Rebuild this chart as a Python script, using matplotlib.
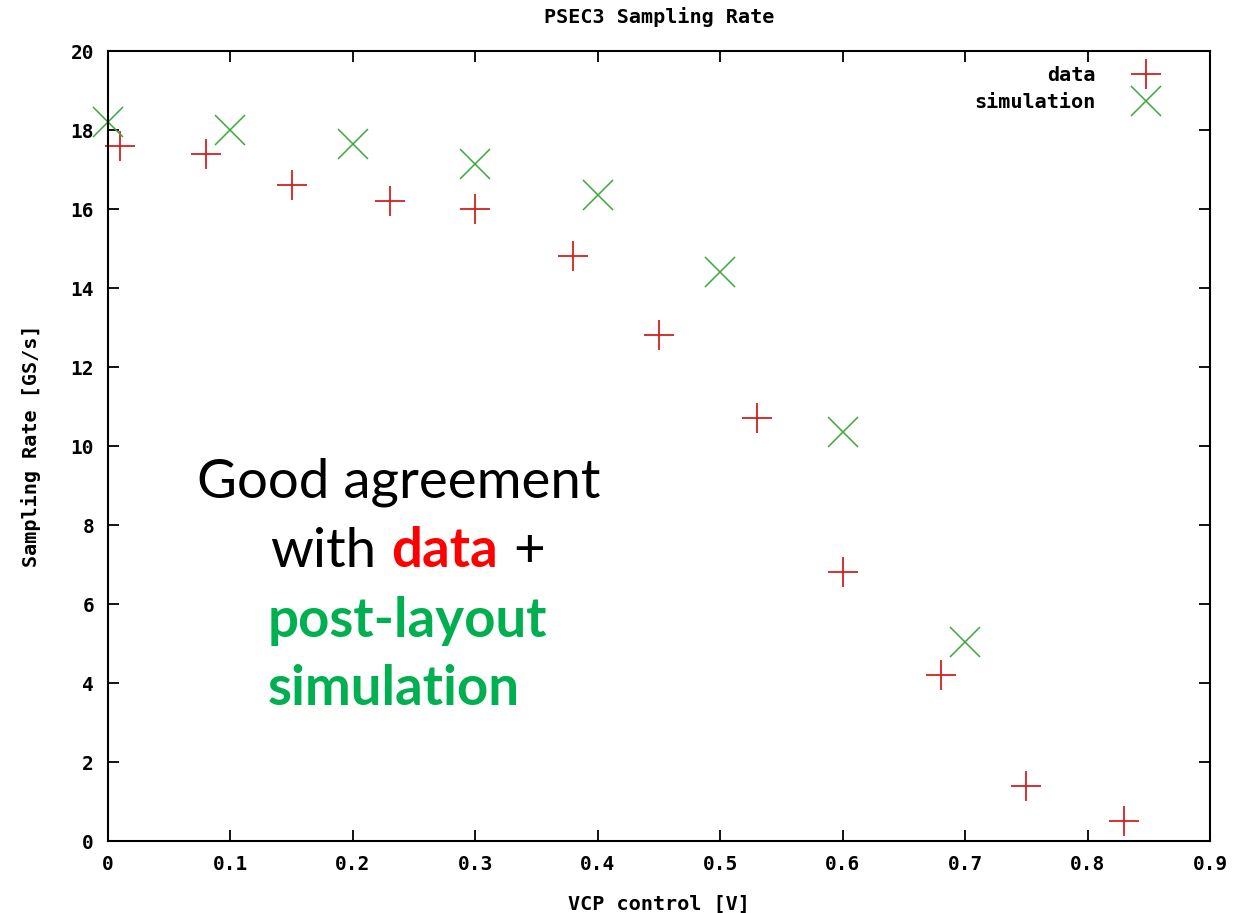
import matplotlib
matplotlib.use("Agg")
import matplotlib.pyplot as plt

# ---- data ----
data_x = [0.01, 0.08, 0.15, 0.23, 0.30, 0.38, 0.45, 0.53, 0.60, 0.68, 0.75, 0.83]
data_y = [17.6, 17.4, 16.6, 16.2, 16.0, 14.8, 12.8, 10.7, 6.8, 4.2, 1.4, 0.5]
sim_x = [0.0, 0.1, 0.2, 0.3, 0.4, 0.5, 0.6, 0.7]
sim_y = [18.2, 18.0, 17.65, 17.15, 16.35, 14.4, 10.35, 5.05]
x_ticks = [0, 0.1, 0.2, 0.3, 0.4, 0.5, 0.6, 0.7, 0.8, 0.9]
x_ticklabels = ["0", "0.1", "0.2", "0.3", "0.4", "0.5", "0.6", "0.7", "0.8", "0.9"]
y_ticks = [0, 2, 4, 6, 8, 10, 12, 14, 16, 18, 20]

W, H = 1247, 913
fig = plt.figure(figsize=(W / 100, H / 100), dpi=100)
ax_l, ax_r, ax_t, ax_b = 108, 1210, 51, 841
ax = fig.add_axes([ax_l / W, 1 - ax_b / H, (ax_r - ax_l) / W, (ax_b - ax_t) / H])

mono = dict(family="DejaVu Sans Mono", weight="bold")

ax.plot(data_x, data_y, linestyle="none", marker="+", markersize=21,
        markeredgewidth=1.3, color="#d42020", label="data", clip_on=False)
ax.plot(sim_x, sim_y, linestyle="none", marker="x", markersize=21,
        markeredgewidth=1.1, color="#3aaa3a", label="simulation", clip_on=False)

ax.set_xlim(0, 0.9)
ax.set_ylim(0, 20)
ax.set_xticks(x_ticks)
ax.set_xticklabels(x_ticklabels)
ax.set_yticks(y_ticks)
for lab in ax.get_xticklabels() + ax.get_yticklabels():
    lab.set_fontfamily("DejaVu Sans Mono")
    lab.set_fontweight("bold")
    lab.set_fontsize(14)
ax.tick_params(direction="in", length=8, width=1.3, top=True, right=True,
               pad=10, colors="black")
for s in ax.spines.values():
    s.set_linewidth(1.5)
    s.set_color("black")

ax.set_title("PSEC3 Sampling Rate", fontsize=14.5, pad=20, **mono)
ax.set_xlabel("VCP control [V]", fontsize=14.5, labelpad=15, **mono)
ax.set_ylabel("Sampling Rate [GS/s]", fontsize=14.5, labelpad=21, **mono)

aw, ah = ax_r - ax_l, ax_b - ax_t
leg = ax.legend(loc="upper right", markerfirst=False, frameon=False,
                bbox_to_anchor=(1 - 48 / aw, 1 - 15 / ah),
                prop=dict(family="DejaVu Sans Mono", weight="bold", size=14.5),
                handlelength=1.6, handletextpad=1.7, labelspacing=0.38,
                borderaxespad=0.0, borderpad=0.0)

# ---- annotation text ----
fs = 39.3
fam = "Lato"
def fy(y):
    return 1 - y / H

fig.text(197 / W, fy(497), "Good agreement", fontsize=fs, family=fam,
         color="black", va="baseline", ha="left")
fig.canvas.draw()
r = fig.canvas.get_renderer()

t1 = fig.text(270 / W, fy(567), "with", fontsize=fs, family=fam,
              color="black", va="baseline", ha="left")
bb = t1.get_window_extent(r)
gap = 15
t2 = fig.text((bb.x1 + gap) / W, fy(567), "data", fontsize=fs, family=fam,
              weight="bold", color="#ff0000", va="baseline", ha="left")
bb2 = t2.get_window_extent(r)
fig.text((bb2.x1 + gap) / W, fy(567), "+", fontsize=fs, family=fam,
         color="black", va="baseline", ha="left")
fig.text(268 / W, fy(637), "post-layout", fontsize=fs, family=fam,
         weight="bold", color="#00b050", va="baseline", ha="left")
fig.text(268 / W, fy(705), "simulation", fontsize=fs, family=fam,
         weight="bold", color="#00b050", va="baseline", ha="left")

fig.savefig("out.png", dpi=100)
